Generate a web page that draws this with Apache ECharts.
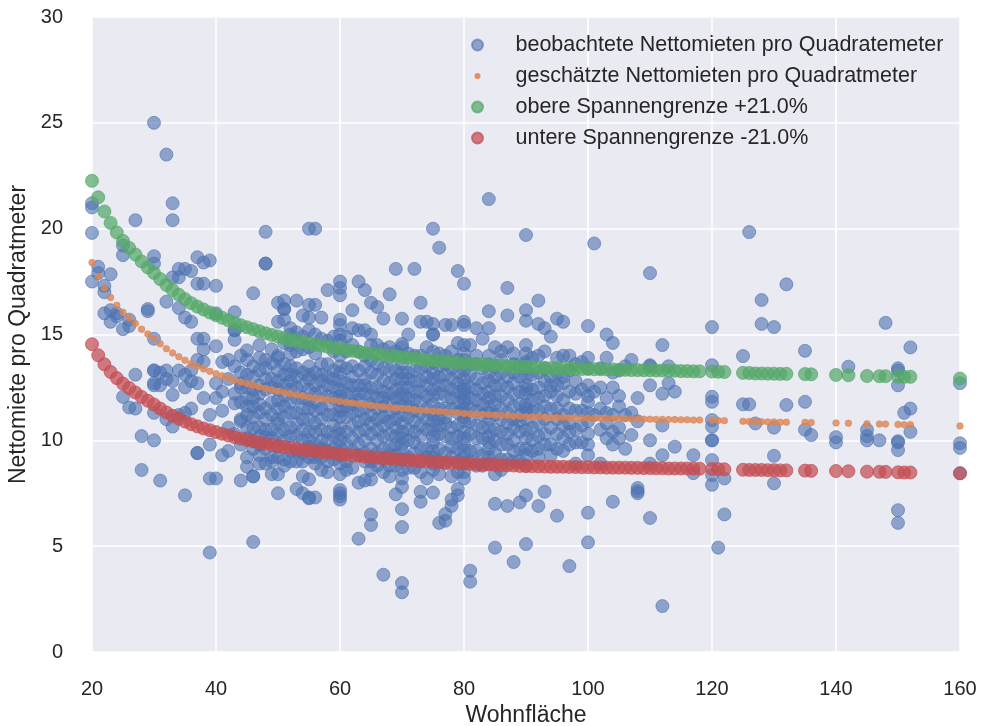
<!DOCTYPE html>
<html>
<head>
<meta charset="utf-8">
<script src="https://cdn.jsdelivr.net/npm/echarts@6/dist/echarts.min.js"></script>
<style>
html,body{margin:0;padding:0;background:#fff;}
#c{width:982px;height:726px;}
</style>
</head>
<body>
<div id="c"></div>
<script>
// Observed net rents per m² grouped by living area (x): [x, [y values]]
const observedGroups = [
  [20,[21.0,21.2,19.8,17.5]],
  [21,[18.2,17.9]],
  [22,[17.0,17.3,16.0]],
  [23,[17.85,16.15,15.6]],
  [24,[15.85,16.0]],
  [25,[19.2,18.75,15.25,12.05]],
  [26,[15.4,11.55,15.7]],
  [27,[20.4,13.1,11.5]],
  [28,[10.2,8.6]],
  [29,[16.2,16.1]],
  [30,[25.0,18.7,18.35,13.3,13.3,12.7,12.6,11.3,10.0,14.8]],
  [31,[12.6,8.1,13.2]],
  [32,[23.5,16.55,13.3,12.9,11.0]],
  [33,[21.2,20.4,12.15,10.65,17.7,12.8]],
  [34,[13.3,16.25,17.7,18.1,11.2]],
  [35,[18.1,15.8,12.5,7.4,13.1,11.3]],
  [36,[18.0,15.6,13.3,12.8,11.5]],
  [37,[18.65,9.4,9.4,14.8,13.8,12.7,17.4]],
  [38,[17.4,14.8,14.3,12.0,18.4,13.7]],
  [39,[18.5,11.2,4.7,9.8,8.2]],
  [40,[17.3,14.45,12.0,12.7,8.2,16.0]],
  [41,[13.7,11.4,9.3,12.3]],
  [42,[13.8,12.9,10.6,9.5]],
  [43,[16.05,15.2,15.2,14.75,13.5,11.75,12.2,10.3]],
  [44,[12.7,12.5,10.9,8.1,14.0,11.8,13.2,11.0,9.8]],
  [45,[14.25,13.8,13.1,12.0,10.1,8.75,9.2,11.2,12.5,11.6,10.6]],
  [46,[16.95,13.0,12.4,10.6,8.3,8.3,5.2,11.6,9.6,13.5,12.0,11.1,10.0]],
  [47,[13.9,13.3,12.6,11.3,10.2,8.9,9.8,14.5,12.2,11.7,10.6,9.3]],
  [48,[19.85,18.35,18.35,13.4,12.4,11.0,10.15,8.9,13.8,12.9,11.5,10.5,9.6]],
  [49,[13.65,12.9,11.8,10.5,9.2,8.4,14.3,12.5,11.2,10.1,9.0]],
  [50,[16.5,15.6,14.0,13.9,12.4,11.5,9.7,8.4,7.5,10.3,13.3,12.8,11.9,11.0,10.8,9.2]],
  [51,[16.6,16.2,16.2,15.7,13.1,12.6,11.1,10.0,9.1,14.6,13.6,12.1,11.6,10.5,8.8]],
  [52,[15.3,14.1,12.8,11.8,10.6,9.5,13.5,15.0,13.1,12.4,11.3,10.2,9.0,14.5]],
  [53,[16.6,15.1,13.4,12.5,11.3,10.2,9.0,7.7,14.2,13.0,12.0,10.8,9.5]],
  [54,[15.9,14.9,13.2,12.0,11.0,10.5,9.4,8.3,14.3,12.6,11.5,10.0,9.0,7.5]],
  [55,[20.0,16.4,15.8,15.2,14.4,13.5,12.9,11.9,11.0,10.4,9.7,8.16,7.26,7.3,13.1,12.4,11.5,10.0,9.2]],
  [56,[20.0,16.4,15.0,13.2,12.6,11.4,10.8,9.5,8.9,7.3,14.1,12.2,11.8,10.4,9.8,9.2]],
  [57,[15.8,14.8,13.6,12.3,11.0,10.0,9.2,13.1,12.8,11.5,10.5,9.6,8.6]],
  [58,[17.1,14.7,13.0,12.1,11.7,10.4,8.5,13.6,12.6,11.2,10.0,9.5,9.0]],
  [59,[14.9,13.3,12.5,11.2,10.2,9.1,14.2,12.9,12.0,10.7,9.6]],
  [60,[17.5,17.2,16.85,15.7,15.45,15.0,14.7,13.2,12.8,12.4,11.9,11.4,11.1,10.6,10.0,9.3,7.65,7.35,7.2,7.5,14.0,13.5,12.1,11.6,10.3,9.7,8.9,8.4]],
  [61,[14.9,13.4,12.7,11.6,10.4,9.0,14.2,12.2,11.1,9.8,8.6]],
  [62,[16.15,15.3,13.0,12.2,11.3,10.1,8.7,14.5,13.5,12.6,11.7,10.7,9.5]],
  [63,[17.5,15.2,14.2,12.6,11.9,10.9,9.8,8.0,5.35,13.3,12.2,11.4,10.4,9.3]],
  [64,[17.1,15.2,13.5,12.9,12.2,11.5,10.5,9.4,8.1,14.0,12.6,11.0,10.0,9.0]],
  [65,[16.5,15.0,13.8,12.5,11.7,11.2,10.3,9.0,8.15,6.5,6.0,14.5,13.2,12.1,10.8,9.6,8.6]],
  [66,[16.3,14.5,13.1,12.0,11.0,10.0,8.8,13.6,12.5,11.5,10.5,9.4]],
  [67,[15.75,14.3,12.8,12.3,11.6,10.7,9.6,8.5,3.65,13.4,12.0,11.1,10.2,9.1]],
  [68,[16.9,13.9,12.7,11.8,10.9,9.3,8.3,14.4,13.3,12.2,11.3,10.3,9.7,8.8]],
  [69,[18.1,14.2,13.3,12.4,11.5,10.6,9.8,7.45,8.8,12.9,12.0,11.0,10.2,9.3]],
  [70,[15.75,14.55,14.4,13.6,12.9,12.2,12.0,11.2,10.8,10.1,9.5,8.6,6.75,5.9,3.26,2.82,7.8,13.2,12.5,11.6,10.4,9.8,9.1,8.2]],
  [71,[15.0,13.2,12.5,11.6,10.5,9.2,14.1,12.9,12.0,11.1,10.0,8.7]],
  [72,[18.1,14.0,12.8,11.9,10.9,9.9,8.7,13.3,12.3,11.4,10.4,9.4]],
  [73,[16.5,15.6,13.4,12.3,11.3,10.2,9.0,7.57,7.1,14.0,12.8,11.8,10.7,9.6,8.5]],
  [74,[15.6,14.4,13.0,12.1,11.0,9.6,8.2,13.5,12.6,11.5,10.5,9.2]],
  [75,[20.0,15.5,15.0,15.0,13.7,12.9,12.4,11.7,11.2,10.5,9.9,9.2,8.6,7.53,14.2,13.2,12.1,10.9,10.2,9.5,8.9]],
  [76,[19.1,14.1,13.0,12.2,11.0,10.3,9.0,6.1,13.5,12.6,11.5,10.7,9.6,8.4]],
  [77,[15.45,13.6,12.6,11.5,10.8,9.4,6.2,6.52,14.0,13.1,12.1,11.1,10.2,8.9]],
  [78,[15.45,14.2,12.9,12.0,10.6,9.7,8.3,6.9,7.2,13.4,12.4,11.5,10.1,9.2]],
  [79,[18.0,14.6,13.2,12.3,11.3,10.2,9.0,7.4,7.7,13.8,12.7,11.8,10.7,9.6,8.5]],
  [80,[17.4,15.6,15.45,14.5,13.8,13.3,12.9,12.6,12.2,11.8,11.5,11.1,10.4,9.8,9.2,8.5,14.1,13.6,12.4,12.0,11.3,10.9,10.1,9.5,8.9,8.2]],
  [81,[14.5,13.1,12.0,10.9,9.5,3.84,3.32,13.6,12.5,11.5,10.3,9.0]],
  [82,[15.3,13.6,12.4,11.4,10.1,8.8,14.0,12.9,11.9,10.7,9.5]],
  [83,[14.8,13.4,12.7,11.7,10.6,9.3,12.2,11.2,10.1,8.8]],
  [84,[21.4,16.1,15.3,13.2,12.8,12.3,11.6,11.0,10.2,9.6,8.9,14.0,13.6,12.0,11.3,10.6,9.9,9.2]],
  [85,[14.4,13.0,12.1,11.2,10.0,8.4,7.0,4.93,13.5,12.6,11.7,10.5,9.4]],
  [86,[13.8,12.6,11.5,10.4,9.1,14.2,13.2,12.1,11.0,9.8,8.6]],
  [87,[17.2,15.9,14.4,12.5,11.9,10.8,9.8,6.9,13.0,11.3,10.3,9.1]],
  [88,[14.1,13.2,12.2,10.6,9.5,4.25,13.6,12.7,11.6,11.0,10.0,9.0]],
  [89,[13.0,11.7,10.9,9.0,7.07,13.6,12.3,11.2,10.4,9.6]],
  [90,[19.7,16.15,15.65,14.1,13.4,13.0,12.6,12.2,11.7,11.3,10.5,9.6,8.8,7.4,5.1,14.5,13.7,12.4,11.5,11.0,10.1,9.3]],
  [91,[13.9,12.4,11.4,10.0,13.1,11.9,10.6,9.5]],
  [92,[16.6,15.5,13.2,12.0,10.8,9.2,6.9,14.0,12.5,11.4,10.2,9.6]],
  [93,[15.3,12.8,11.6,10.3,7.57,14.2,13.4,12.1,11.0,9.8]],
  [94,[14.9,13.0,12.3,9.8,12.6,11.5,10.6,9.3]],
  [95,[15.75,13.9,12.1,11.0,6.44,13.2,12.6,11.5,10.3,9.6]],
  [96,[15.6,14.0,12.7,10.7,9.5,13.0,11.9,11.2,10.1]],
  [97,[13.3,11.5,10.4,4.06,14.0,12.3,10.8,9.8]],
  [98,[12.2,9.9,8.9,13.6,12.8,11.4,10.5]],
  [99,[13.7,10.7,12.4,11.4,9.9]],
  [100,[15.4,13.9,12.6,11.8,10.9,10.3,9.3,6.58,5.18,13.4,12.1,11.3,9.8]],
  [101,[19.3,12.3,11.2]],
  [102,[13.4,10.5,8.9,12.5,11.5]],
  [103,[15.0,13.9,12.0,10.8,11.3,10.1]],
  [104,[12.5,11.2,9.8,7.1,14.6,13.2,10.4]],
  [105,[13.3,11.6,10.1,12.1,10.6]],
  [106,[13.5,11.2,9.6]],
  [107,[13.8,11.3,10.25]],
  [108,[12.0,10.9,7.75,7.5,7.6]],
  [110,[17.9,13.55,13.5,12.6,10.0,6.33,8.9]],
  [112,[14.5,12.2,10.7,9.3,2.17]],
  [113,[13.5,12.7]],
  [114,[12.3,9.7]],
  [117,[9.3,8.45]],
  [120,[15.35,13.55,12.06,11.82,10.96,10.65,10.0,10.0,9.07,8.36,7.9]],
  [121,[4.93]],
  [122,[8.2,6.5]],
  [125,[13.98,11.7]],
  [126,[19.84,11.7]],
  [127,[10.8]],
  [128,[16.63,15.5]],
  [130,[15.35,10.6,9.27,7.97]],
  [132,[17.37,11.67]],
  [135,[14.23,11.82,10.5]],
  [136,[10.25]],
  [140,[10.15,9.9]],
  [142,[13.48]],
  [145,[10.5,10.0,10.2]],
  [147,[10.0]],
  [148,[15.55]],
  [150,[13.4,13.3,12.6,9.96,9.9,9.54,6.7,6.1]],
  [151,[11.3]],
  [152,[14.39,11.5,10.4]],
  [160,[12.7,9.86,9.64,8.45]]
];

// Living areas at which the model curves are drawn
const fitX = [20,21,22,23,24,25,26,27,28,29,30,31,32,33,34,35,36,37,38,39,40,41,42,43,44,45,46,47,48,49,
  50,51,52,53,54,55,56,57,58,59,60,61,62,63,64,65,66,67,68,69,70,71,72,73,74,75,76,77,78,79,
  80,81,82,83,84,85,86,87,88,89,90,91,92,93,94,95,96,97,98,99,100,101,102,103,104,105,106,107,108,109,
  110,111,112,113,114,115,116,117,118,120,121,122,125,126,127,128,129,130,131,132,135,136,140,142,145,147,148,150,151,152,160];

// Estimated net rent per m²
const fitEstimate = [18.40,17.75,17.20,16.75,16.38,16.05,15.78,15.52,15.25,15.02,14.80,14.56,14.33,14.13,13.95,13.78,13.62,13.49,13.37,13.26,
  13.15,13.05,12.95,12.85,12.76,12.68,12.60,12.52,12.45,12.38,12.32,12.26,12.20,12.15,12.10,12.05,12.00,11.96,11.92,11.88,
  11.84,11.80,11.76,11.72,11.68,11.65,11.62,11.59,11.56,11.53,11.50,11.48,11.45,11.43,11.40,11.38,11.36,11.34,11.31,11.29,
  11.27,11.25,11.24,11.22,11.21,11.19,11.18,11.16,11.15,11.13,11.12,11.11,11.10,11.09,11.08,11.08,11.07,11.06,11.06,11.05,
  11.05,11.04,11.04,11.03,11.03,11.02,11.02,11.01,11.01,11.00,11.00,10.99,10.99,10.98,10.98,10.97,10.97,10.96,10.96,
  10.95,10.94,10.93,10.90,10.89,10.88,10.88,10.87,10.87,10.86,10.86,10.85,10.84,10.82,10.81,10.78,10.77,10.77,10.75,10.74,10.74,10.68];

// Upper range limit (+21.0 %)
const fitUpper = [22.26,21.48,20.81,20.27,19.82,19.42,19.09,18.78,18.45,18.17,17.91,17.62,17.34,17.10,16.88,16.67,16.48,16.32,16.18,16.04,
  15.91,15.79,15.67,15.55,15.44,15.34,15.25,15.15,15.06,14.98,14.91,14.83,14.76,14.70,14.64,14.58,14.52,14.47,14.42,14.37,
  14.33,14.28,14.23,14.18,14.13,14.10,14.06,14.02,13.99,13.95,13.92,13.89,13.85,13.83,13.79,13.77,13.75,13.72,13.69,13.66,
  13.64,13.61,13.60,13.58,13.56,13.54,13.53,13.50,13.49,13.47,13.46,13.44,13.43,13.42,13.41,13.41,13.39,13.38,13.38,13.37,
  13.37,13.36,13.36,13.35,13.35,13.33,13.33,13.32,13.32,13.31,13.31,13.30,13.30,13.29,13.29,13.27,13.27,13.26,13.26,
  13.25,13.24,13.23,13.19,13.18,13.16,13.16,13.15,13.15,13.14,13.14,13.13,13.12,13.09,13.08,13.04,13.03,13.03,13.01,13.00,13.00,12.92];

// Lower range limit (-21.0 %)
const fitLower = [14.54,14.02,13.59,13.23,12.94,12.68,12.47,12.26,12.05,11.87,11.69,11.50,11.32,11.16,11.02,10.89,10.76,10.66,10.56,10.48,
  10.39,10.31,10.23,10.15,10.08,10.02,9.95,9.89,9.84,9.78,9.73,9.69,9.64,9.60,9.56,9.52,9.48,9.45,9.42,9.39,
  9.35,9.32,9.29,9.26,9.23,9.20,9.18,9.16,9.13,9.11,9.09,9.07,9.05,9.03,9.01,8.99,8.97,8.96,8.93,8.92,
  8.90,8.89,8.88,8.86,8.86,8.84,8.83,8.82,8.81,8.79,8.78,8.78,8.77,8.76,8.75,8.75,8.75,8.74,8.74,8.73,
  8.73,8.72,8.72,8.71,8.71,8.71,8.71,8.70,8.70,8.69,8.69,8.68,8.68,8.67,8.67,8.67,8.67,8.66,8.66,
  8.65,8.64,8.63,8.61,8.60,8.60,8.60,8.59,8.59,8.58,8.58,8.57,8.56,8.55,8.54,8.52,8.51,8.51,8.49,8.48,8.48,8.44];

const xTicks = [20,40,60,80,100,120,140,160];
const yTicks = [0,5,10,15,20,25,30];
const seriesNames = [
  'beobachtete Nettomieten pro Quadratemeter',
  'geschätzte Nettomieten pro Quadratmeter',
  'obere Spannengrenze +21.0%',
  'untere Spannengrenze -21.0%'
];

const observed = [];
observedGroups.forEach(g => g[1].forEach(y => observed.push([g[0], y])));
const pair = ys => fitX.map((x, i) => [x, ys[i]]);

const FONT = '"Liberation Sans", Arial, sans-serif';
const TXT = '#262626';
const blue = '#4C72B0', orange = '#DD8452', green = '#55A868', red = '#C44E52';

const chart = echarts.init(document.getElementById('c'), null, {renderer: 'canvas'});
chart.setOption({
  animation: false,
  backgroundColor: '#ffffff',
  textStyle: {fontFamily: FONT},
  grid: {left: 92, right: 22, top: 17, bottom: 74, show: true, backgroundColor: '#EAEAF2', borderWidth: 0,
         containLabel: false, outerBoundsMode: 'none'},
  xAxis: {
    type: 'value', min: xTicks[0], max: xTicks[xTicks.length - 1], interval: 20,
    axisLine: {show: false}, axisTick: {show: false},
    splitLine: {show: true, lineStyle: {color: '#ffffff', width: 1.6}},
    axisLabel: {color: TXT, fontSize: 20, margin: 27, fontFamily: FONT},
    name: 'Wohnfläche', nameLocation: 'middle', nameGap: 50,
    nameTextStyle: {color: TXT, fontSize: 23, fontFamily: FONT}
  },
  yAxis: {
    type: 'value', min: yTicks[0], max: yTicks[yTicks.length - 1], interval: 5,
    axisLine: {show: false}, axisTick: {show: false},
    splitLine: {show: true, lineStyle: {color: '#ffffff', width: 1.6}},
    axisLabel: {color: TXT, fontSize: 20, margin: 29, fontFamily: FONT},
    name: 'Nettomiete pro Quadratmeter', nameLocation: 'middle', nameGap: 53,
    nameTextStyle: {color: TXT, fontSize: 23, fontFamily: FONT}
  },
  legend: {
    orient: 'vertical', left: 471, top: 34, padding: 0,
    itemWidth: 66, itemHeight: 11, itemGap: 9,
    textStyle: {color: TXT, fontSize: 21.5, lineHeight: 22, fontFamily: FONT},
    data: [
      {name: seriesNames[0], icon: 'circle'},
      {name: seriesNames[1], icon: 'path://M0 0M10 10M3.1 5a1.9 1.9 0 1 0 3.8 0a1.9 1.9 0 1 0 -3.8 0z'},
      {name: seriesNames[2], icon: 'circle'},
      {name: seriesNames[3], icon: 'circle'}
    ]
  },
  series: [
    {
      name: seriesNames[0], type: 'scatter', data: observed, symbolSize: 13,
      itemStyle: {color: blue, opacity: 0.6, borderColor: blue, borderWidth: 1}
    },
    {
      name: seriesNames[1], type: 'scatter', data: pair(fitEstimate), symbolSize: 6.5,
      itemStyle: {color: orange, opacity: 0.8, borderColor: orange, borderWidth: 0.8}
    },
    {
      name: seriesNames[2], type: 'scatter', data: pair(fitUpper), symbolSize: 13,
      itemStyle: {color: green, opacity: 0.72, borderColor: green, borderWidth: 1}
    },
    {
      name: seriesNames[3], type: 'scatter', data: pair(fitLower), symbolSize: 13,
      itemStyle: {color: red, opacity: 0.72, borderColor: red, borderWidth: 1}
    }
  ]
});
</script>
</body>
</html>
